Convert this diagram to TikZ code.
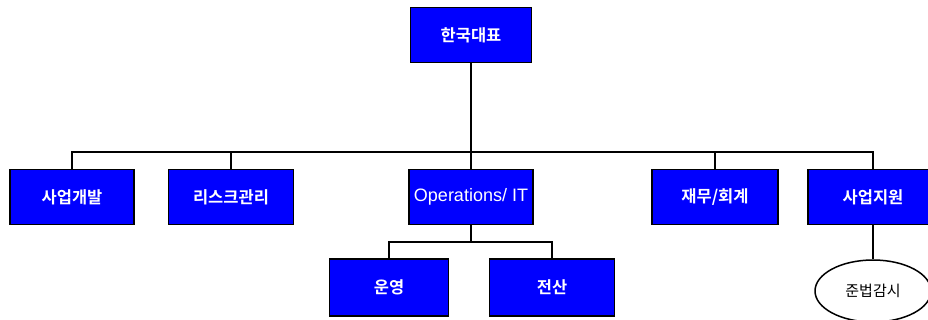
\documentclass[tikz,border=0pt]{standalone}
\usepackage{fontspec}
\setmainfont{Liberation Sans}
\newfontfamily\kr{Noto Sans CJK KR}[BoldFont={* Bold}]
\usetikzlibrary{shapes.geometric}
\definecolor{boxblue}{RGB}{0,0,255}
\tikzset{
  orgbox/.style={draw=black, line width=1.6pt, fill=boxblue, text=white,
    minimum height=55pt, inner sep=0pt, font=\fontsize{16.5}{18}\selectfont\kr\bfseries},
  link/.style={draw=black, line width=1.8pt},
}
\begin{document}
\begin{tikzpicture}[x=1pt,y=-1pt]
\useasboundingbox (0,0) rectangle (928,320);
\clip (0,0) rectangle (928,320);
\node[orgbox, minimum width=121pt] (top) at (471,35) {한국대표};
\node[orgbox, minimum width=124pt] (sa) at (72,197) {사업개발};
\node[orgbox, minimum width=125pt] (risk) at (231,197) {리스크관리};
\node[orgbox, minimum width=124pt, font=\fontsize{18}{20}\selectfont] (ops) at (471,197) {Operations/ IT};
\node[orgbox, minimum width=126pt] (fin) at (715,197) {재무/회계};
\node[orgbox, minimum width=130pt] (sup) at (873,197) {사업지원};
\node[orgbox, minimum width=119pt, minimum height=57pt] (op) at (389,287.5) {운영};
\node[orgbox, minimum width=125pt, minimum height=57pt] (it) at (552,287.5) {전산};
\node[draw=black, line width=1.5pt, ellipse, minimum width=116pt, minimum height=62pt, inner sep=0pt,
  font=\fontsize{15}{17}\selectfont\kr] (law) at (873,291) {준법감시};
\coordinate (bus) at (471,152);
\coordinate (bus2) at (471,242);
\draw[link] (top.south) -- (bus);
\draw[link] (sa.north) |- (sup.north |- bus) -- (sup.north);
\draw[link] (risk.north) -- (risk.north |- bus);
\draw[link] (ops.north) -- (ops.north |- bus);
\draw[link] (fin.north) -- (fin.north |- bus);
\draw[link] (ops.south) -- (bus2);
\draw[link] (op.north) |- (it.north |- bus2) -- (it.north);
\draw[link] (sup.south) -- (law.north);
\end{tikzpicture}
\end{document}
